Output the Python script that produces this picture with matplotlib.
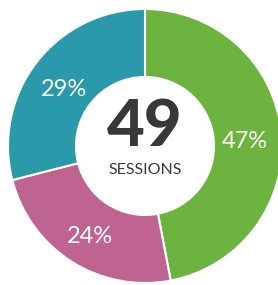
import matplotlib
matplotlib.use("Agg")
import matplotlib.pyplot as plt
import numpy as np

labels = ["47%", "24%", "29%"]
values = [47, 24, 29]
colors = ["#6db33f", "#bf6490", "#2a9aab"]
total_text = "49"
sub_text = "SESSIONS"

W, H = 278, 285
fig = plt.figure(figsize=(W / 100, H / 100), dpi=100)
ax = fig.add_axes([0, 0, 1, 1])

cx, cy = 145, H - 146
r_out, r_in = 137, 69

wedges, _ = ax.pie(values, colors=colors, startangle=90, counterclock=False,
                   center=(cx, cy), radius=r_out, frame=True,
                   wedgeprops=dict(width=r_out - r_in, edgecolor="white", linewidth=1.5))
ax.set_xlim(0, W)
ax.set_ylim(0, H)
ax.set_aspect("equal")
ax.axis("off")

# label positions, a little below the ring middle as in the original
r_lab = (r_out + r_in) / 2 - 2
for w, lab in zip(wedges, labels):
    ang = np.deg2rad((w.theta1 + w.theta2) / 2)
    ax.text(cx + r_lab * np.cos(ang) - 1, cy + r_lab * np.sin(ang) - 5, lab,
            ha="center", va="center", color="white", fontsize=17, family="Lato")

ax.text(cx, cy + 18, total_text, ha="center", va="center", fontsize=47,
        fontweight="black", color="#383838", family="Lato")
ax.text(cx, cy - 24, sub_text, ha="center", va="center", fontsize=11.5,
        color="#383838", family="Lato")

fig.savefig("out.png", dpi=100)
